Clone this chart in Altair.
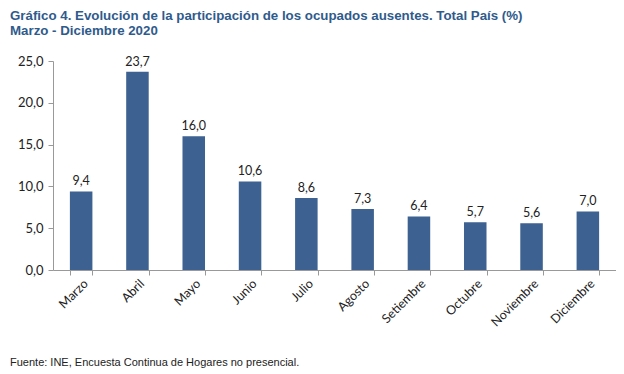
import altair as alt
import pandas as pd

meses = ["Marzo", "Abril", "Mayo", "Junio", "Julio", "Agosto", "Setiembre",
         "Octubre", "Noviembre", "Diciembre"]
valores = [9.4, 23.7, 16.0, 10.6, 8.6, 7.3, 6.4, 5.7, 5.6, 7.0]
titulo = "Gráfico 4. Evolución de la participación de los ocupados ausentes. Total País (%)"
subtitulo = "Marzo - Diciembre 2020"
fuente = "Fuente: INE, Encuesta Continua de Hogares no presencial."

df = pd.DataFrame({"mes": meses, "valor": valores})

BAR = "#3D6190"
TITLE = "#2F5B8C"
LABEL_FONT = "Lato"

base = alt.Chart(df).encode(
    x=alt.X("mes:N", sort=meses, title=None,
            scale=alt.Scale(paddingInner=0.6, paddingOuter=0.3),
            axis=alt.Axis(labelAngle=-45, labelAlign="right", labelBaseline="top",
                          tickBand="extent", tickSize=5, domainColor="#999999",
                          tickColor="#999999", labelColor="#222222",
                          labelFont=LABEL_FONT, labelFontSize=12.5, labelPadding=2)),
    y=alt.Y("valor:Q", title=None,
            scale=alt.Scale(domain=[0, 25], nice=False),
            axis=alt.Axis(values=[0, 5, 10, 15, 20, 25], grid=False,
                          labelExpr="replace(format(datum.value, '.1f'), '.', ',')",
                          tickSize=5, domainColor="#999999", tickColor="#999999",
                          labelColor="#222222", labelFont=LABEL_FONT,
                          labelFontSize=13, labelPadding=5)),
)

bars = base.mark_bar(color=BAR)
text = base.mark_text(dy=-10, font=LABEL_FONT, fontSize=12.5, color="#222222").encode(
    text=alt.Text("etiqueta:N")
).transform_calculate(etiqueta="replace(format(datum.valor, '.1f'), '.', ',')")

foot = alt.Chart(pd.DataFrame({"t": [fuente]})).mark_text(
    align="left", baseline="alphabetic", font="Liberation Sans", fontSize=11,
    color="#222222"
).encode(x=alt.value(-43), y=alt.value(305), text="t:N")

chart = alt.layer(bars, text, foot).properties(
    width=563, height=209,
    autosize=alt.AutoSizeParams(type="none"),
    padding={"left": 45, "top": 53, "right": 0, "bottom": 110},
    title=alt.TitleParams(text=titulo, subtitle=subtitulo, anchor="start",
                          frame="group", dx=-43, offset=18,
                          font="Liberation Sans", fontSize=13.3, fontWeight="bold",
                          color=TITLE, subtitleFont="Liberation Sans",
                          subtitleFontSize=13.3, subtitleFontWeight="bold",
                          subtitleColor=TITLE, subtitlePadding=1),
).configure_view(stroke=None)

chart.save("out.html", embed_options={"renderer": "svg", "actions": False})
